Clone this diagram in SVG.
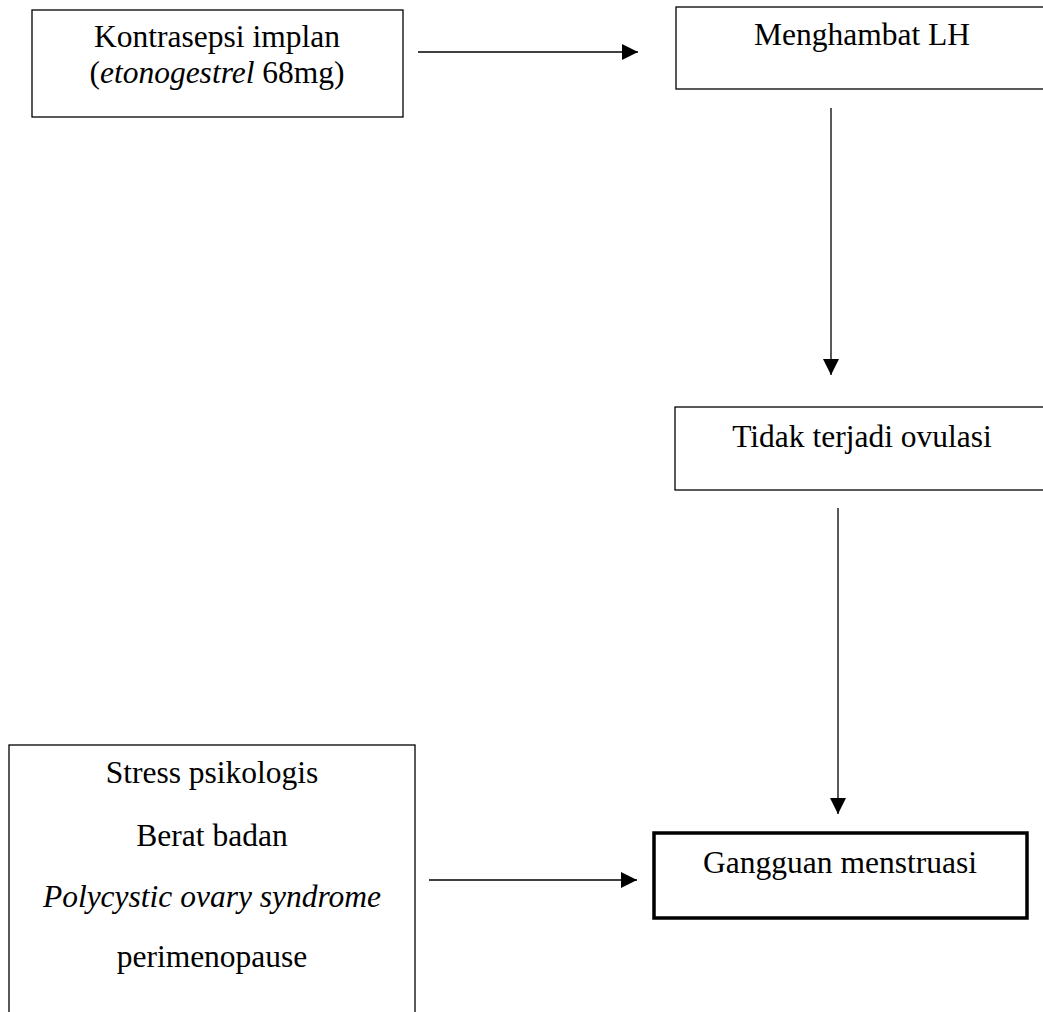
<svg xmlns="http://www.w3.org/2000/svg" width="1043" height="1012" viewBox="0 0 1043 1012">
<style>
text{font-family:"Liberation Serif","Times New Roman",serif;font-size:31.5px;fill:#000;text-anchor:middle}
.it{font-style:italic}
.box{fill:#fff;stroke:#000;stroke-width:1.3}
.thick{fill:#fff;stroke:#000;stroke-width:3.5}
.conn{stroke:#000;stroke-width:1.3;fill:none}
</style>
<defs>
<marker id="ah" viewBox="0 0 16 16" refX="16" refY="8" markerWidth="16" markerHeight="16" markerUnits="userSpaceOnUse" orient="auto">
<path d="M0,0 L16,8 L0,16 z" fill="#000"/>
</marker>
</defs>
<rect width="1043" height="1012" fill="#fff"/>
<g id="n1">
<rect class="box" x="32" y="10" width="371" height="107"/>
<text x="217" y="47">Kontrasepsi implan</text>
<text x="217" y="83">(<tspan class="it">etonogestrel</tspan> 68mg)</text>
</g>
<g id="n2">
<rect class="box" x="676" y="7" width="380" height="82"/>
<text x="862" y="45">Menghambat LH</text>
</g>
<g id="n3">
<rect class="box" x="675" y="407" width="380" height="83"/>
<text x="862" y="447">Tidak terjadi ovulasi</text>
</g>
<g id="n4">
<rect class="thick" x="654" y="833" width="373" height="85"/>
<text x="840" y="873">Gangguan menstruasi</text>
</g>
<g id="n5">
<rect class="box" x="9" y="745" width="406" height="280"/>
<text x="212" y="783">Stress psikologis</text>
<text x="212" y="846">Berat badan</text>
<text x="212" y="907" class="it">Polycystic ovary syndrome</text>
<text x="212" y="967">perimenopause</text>
</g>
<g id="connectors">
<line class="conn" x1="418" y1="52" x2="638" y2="52" marker-end="url(#ah)"/>
<line class="conn" x1="831" y1="108" x2="831" y2="375" marker-end="url(#ah)"/>
<line class="conn" x1="838" y1="508" x2="838" y2="814" marker-end="url(#ah)"/>
<line class="conn" x1="429" y1="880" x2="637" y2="880" marker-end="url(#ah)"/>
</g>
</svg>
